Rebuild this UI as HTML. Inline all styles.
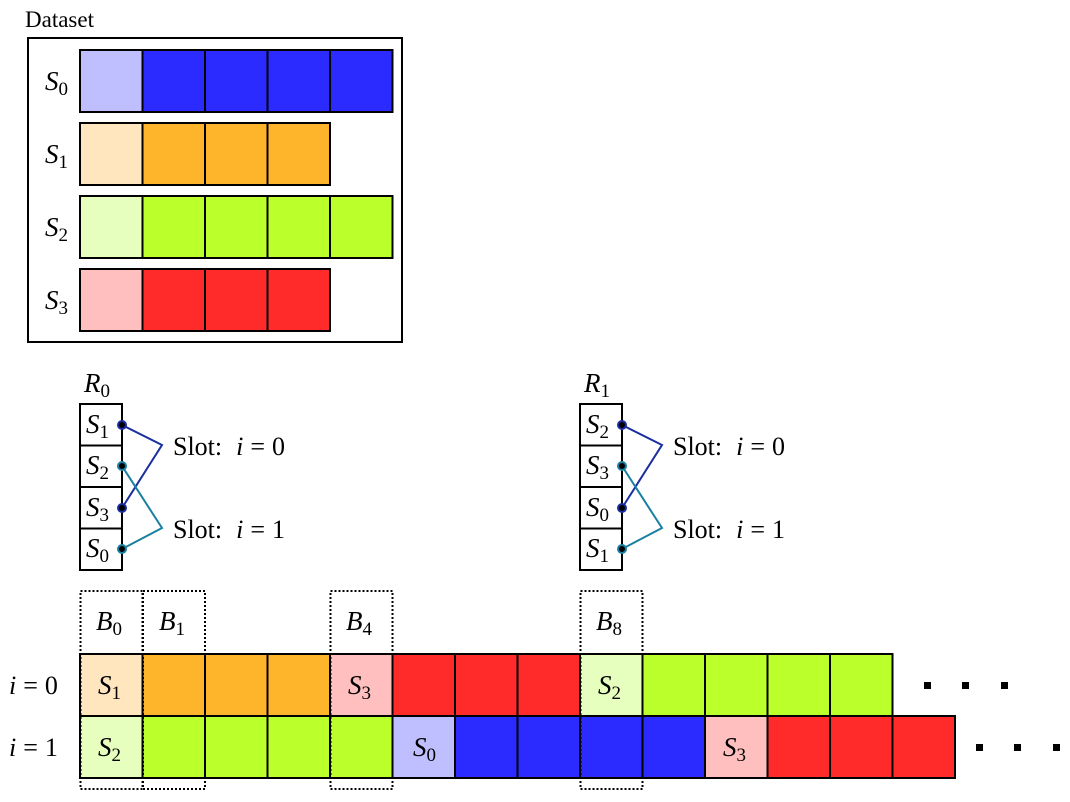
<!DOCTYPE html>
<html><head><meta charset="utf-8"><style>
body{margin:0;background:#fff}
svg text{font-family:"Liberation Serif",serif;fill:#000}
.m{font-style:italic}
</style></head><body>
<svg width="1070" height="797" viewBox="0 0 1070 797" xmlns="http://www.w3.org/2000/svg">
<g stroke="#000" stroke-width="2">
<rect x="28" y="38" width="374" height="304" fill="none"/>
<rect x="80" y="50" width="62.5" height="62" fill="#bfbfff"/>
<rect x="142.5" y="50" width="62.5" height="62" fill="#2b2bff"/>
<rect x="205" y="50" width="62.5" height="62" fill="#2b2bff"/>
<rect x="267.5" y="50" width="62.5" height="62" fill="#2b2bff"/>
<rect x="330" y="50" width="62.5" height="62" fill="#2b2bff"/>
<rect x="80" y="123" width="62.5" height="62" fill="#ffe6bf"/>
<rect x="142.5" y="123" width="62.5" height="62" fill="#ffb52b"/>
<rect x="205" y="123" width="62.5" height="62" fill="#ffb52b"/>
<rect x="267.5" y="123" width="62.5" height="62" fill="#ffb52b"/>
<rect x="80" y="196" width="62.5" height="62" fill="#e6ffbf"/>
<rect x="142.5" y="196" width="62.5" height="62" fill="#bbff2b"/>
<rect x="205" y="196" width="62.5" height="62" fill="#bbff2b"/>
<rect x="267.5" y="196" width="62.5" height="62" fill="#bbff2b"/>
<rect x="330" y="196" width="62.5" height="62" fill="#bbff2b"/>
<rect x="80" y="269" width="62.5" height="62" fill="#ffbfbf"/>
<rect x="142.5" y="269" width="62.5" height="62" fill="#ff2b2b"/>
<rect x="205" y="269" width="62.5" height="62" fill="#ff2b2b"/>
<rect x="267.5" y="269" width="62.5" height="62" fill="#ff2b2b"/>
<rect x="80" y="404" width="42" height="41.5" fill="#fff"/>
<rect x="80" y="445.5" width="42" height="41.5" fill="#fff"/>
<rect x="80" y="487" width="42" height="41.5" fill="#fff"/>
<rect x="80" y="528.5" width="42" height="41.5" fill="#fff"/>
<rect x="580" y="404" width="42" height="41.5" fill="#fff"/>
<rect x="580" y="445.5" width="42" height="41.5" fill="#fff"/>
<rect x="580" y="487" width="42" height="41.5" fill="#fff"/>
<rect x="580" y="528.5" width="42" height="41.5" fill="#fff"/>
</g>
<g fill="none" stroke-width="2">
<polyline points="122,425 162,445 122,508" stroke="#1a2ea0"/>
<polyline points="122,466 162,528 122,549" stroke="#1a80a0"/>
<polyline points="622,425 662,445 622,508" stroke="#1a2ea0"/>
<polyline points="622,466 662,528 622,549" stroke="#1a80a0"/>
</g>
<g stroke-width="2" fill="#000">
<circle cx="122" cy="425" r="4" stroke="#1a2ea0"/><circle cx="122" cy="508" r="4" stroke="#1a2ea0"/>
<circle cx="122" cy="466" r="4" stroke="#1a80a0"/><circle cx="122" cy="549" r="4" stroke="#1a80a0"/>
<circle cx="622" cy="425" r="4" stroke="#1a2ea0"/><circle cx="622" cy="508" r="4" stroke="#1a2ea0"/>
<circle cx="622" cy="466" r="4" stroke="#1a80a0"/><circle cx="622" cy="549" r="4" stroke="#1a80a0"/>
</g>
<g stroke="#000" stroke-width="2">
<rect x="80" y="654" width="62.5" height="62" fill="#ffe6bf"/>
<rect x="142.5" y="654" width="62.5" height="62" fill="#ffb52b"/>
<rect x="205" y="654" width="62.5" height="62" fill="#ffb52b"/>
<rect x="267.5" y="654" width="62.5" height="62" fill="#ffb52b"/>
<rect x="330" y="654" width="62.5" height="62" fill="#ffbfbf"/>
<rect x="392.5" y="654" width="62.5" height="62" fill="#ff2b2b"/>
<rect x="455" y="654" width="62.5" height="62" fill="#ff2b2b"/>
<rect x="517.5" y="654" width="62.5" height="62" fill="#ff2b2b"/>
<rect x="580" y="654" width="62.5" height="62" fill="#e6ffbf"/>
<rect x="642.5" y="654" width="62.5" height="62" fill="#bbff2b"/>
<rect x="705" y="654" width="62.5" height="62" fill="#bbff2b"/>
<rect x="767.5" y="654" width="62.5" height="62" fill="#bbff2b"/>
<rect x="830" y="654" width="62.5" height="62" fill="#bbff2b"/>
<rect x="80" y="716" width="62.5" height="62" fill="#e6ffbf"/>
<rect x="142.5" y="716" width="62.5" height="62" fill="#bbff2b"/>
<rect x="205" y="716" width="62.5" height="62" fill="#bbff2b"/>
<rect x="267.5" y="716" width="62.5" height="62" fill="#bbff2b"/>
<rect x="330" y="716" width="62.5" height="62" fill="#bbff2b"/>
<rect x="392.5" y="716" width="62.5" height="62" fill="#bfbfff"/>
<rect x="455" y="716" width="62.5" height="62" fill="#2b2bff"/>
<rect x="517.5" y="716" width="62.5" height="62" fill="#2b2bff"/>
<rect x="580" y="716" width="62.5" height="62" fill="#2b2bff"/>
<rect x="642.5" y="716" width="62.5" height="62" fill="#2b2bff"/>
<rect x="705" y="716" width="62.5" height="62" fill="#ffbfbf"/>
<rect x="767.5" y="716" width="62.5" height="62" fill="#ff2b2b"/>
<rect x="830" y="716" width="62.5" height="62" fill="#ff2b2b"/>
<rect x="892.5" y="716" width="62.5" height="62" fill="#ff2b2b"/>
</g>
<g fill="none" stroke="#000" stroke-width="2" stroke-dasharray="2,2">
<rect x="80.5" y="591" width="62" height="198"/>
<rect x="143" y="591" width="62" height="198"/>
<rect x="330.5" y="591" width="62" height="198"/>
<rect x="580.5" y="591" width="62" height="198"/>
</g>
<g fill="#000">
<rect x="924" y="682" width="7" height="7"/><rect x="962" y="682" width="7" height="7"/><rect x="1001" y="682" width="7" height="7"/>
<rect x="976" y="744" width="7" height="7"/><rect x="1014" y="744" width="7" height="7"/><rect x="1053" y="744" width="7" height="7"/>
</g>
<g font-size="27">
<text x="25" y="27" font-size="23">Dataset</text>
<text x="45" y="90" class="m">S<tspan font-size="19" dy="5" font-style="normal">0</tspan></text>
<text x="45" y="163" class="m">S<tspan font-size="19" dy="5" font-style="normal">1</tspan></text>
<text x="45" y="236" class="m">S<tspan font-size="19" dy="5" font-style="normal">2</tspan></text>
<text x="45" y="309" class="m">S<tspan font-size="19" dy="5" font-style="normal">3</tspan></text>
<text x="84" y="392" class="m">R<tspan font-size="19" dy="5" font-style="normal">0</tspan></text>
<text x="584" y="392" class="m">R<tspan font-size="19" dy="5" font-style="normal">1</tspan></text>
<text x="86" y="433" class="m">S<tspan font-size="19" dy="5" font-style="normal">1</tspan></text>
<text x="86" y="474" class="m">S<tspan font-size="19" dy="5" font-style="normal">2</tspan></text>
<text x="86" y="516" class="m">S<tspan font-size="19" dy="5" font-style="normal">3</tspan></text>
<text x="86" y="557" class="m">S<tspan font-size="19" dy="5" font-style="normal">0</tspan></text>
<text x="586" y="433" class="m">S<tspan font-size="19" dy="5" font-style="normal">2</tspan></text>
<text x="586" y="474" class="m">S<tspan font-size="19" dy="5" font-style="normal">3</tspan></text>
<text x="586" y="516" class="m">S<tspan font-size="19" dy="5" font-style="normal">0</tspan></text>
<text x="586" y="557" class="m">S<tspan font-size="19" dy="5" font-style="normal">1</tspan></text>
<text x="173" y="455" font-size="26">Slot:<tspan class="m" dx="14">i</tspan><tspan dx="7">=</tspan><tspan dx="7">0</tspan></text>
<text x="173" y="538" font-size="26">Slot:<tspan class="m" dx="14">i</tspan><tspan dx="7">=</tspan><tspan dx="7">1</tspan></text>
<text x="673" y="455" font-size="26">Slot:<tspan class="m" dx="14">i</tspan><tspan dx="7">=</tspan><tspan dx="7">0</tspan></text>
<text x="673" y="538" font-size="26">Slot:<tspan class="m" dx="14">i</tspan><tspan dx="7">=</tspan><tspan dx="7">1</tspan></text>
<text x="96" y="630" class="m">B<tspan font-size="19" dy="5" font-style="normal">0</tspan></text>
<text x="159" y="630" class="m">B<tspan font-size="19" dy="5" font-style="normal">1</tspan></text>
<text x="346" y="630" class="m">B<tspan font-size="19" dy="5" font-style="normal">4</tspan></text>
<text x="596" y="630" class="m">B<tspan font-size="19" dy="5" font-style="normal">8</tspan></text>
<text x="9" y="694" font-size="26"><tspan class="m">i</tspan><tspan dx="7">=</tspan><tspan dx="7">0</tspan></text>
<text x="9" y="756" font-size="26"><tspan class="m">i</tspan><tspan dx="7">=</tspan><tspan dx="7">1</tspan></text>
<text x="98" y="694" class="m">S<tspan font-size="19" dy="5" font-style="normal">1</tspan></text>
<text x="348" y="694" class="m">S<tspan font-size="19" dy="5" font-style="normal">3</tspan></text>
<text x="598" y="694" class="m">S<tspan font-size="19" dy="5" font-style="normal">2</tspan></text>
<text x="98" y="756" class="m">S<tspan font-size="19" dy="5" font-style="normal">2</tspan></text>
<text x="413" y="756" class="m">S<tspan font-size="19" dy="5" font-style="normal">0</tspan></text>
<text x="723" y="756" class="m">S<tspan font-size="19" dy="5" font-style="normal">3</tspan></text>
</g>
</svg>
</body></html>
